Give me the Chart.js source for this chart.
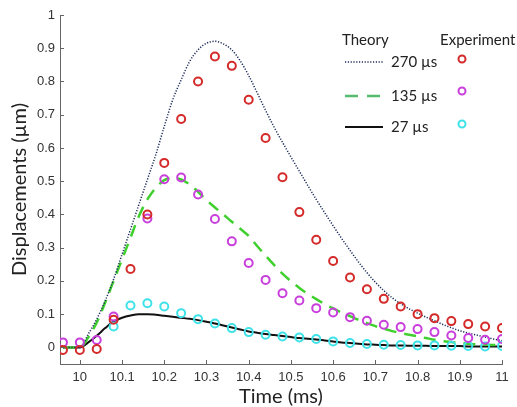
<!DOCTYPE html>
<html>
<head>
<meta charset="utf-8">
<script src="https://cdn.jsdelivr.net/npm/chart.js@4"></script>
<style>
  body { margin: 0; background: #fff; }
</style>
</head>
<body>
<canvas id="grafico" width="517" height="407"></canvas>
<script>
// experiment sample times (ms) and measured displacements (um)
const expTime = [9.96, 10.00, 10.04, 10.08, 10.12, 10.16, 10.20, 10.24, 10.28, 10.32, 10.36, 10.40, 10.44, 10.48,
  10.52, 10.56, 10.60, 10.64, 10.68, 10.72, 10.76, 10.80, 10.84, 10.88, 10.92, 10.96, 11.00];
const exp270 = [-0.008, -0.008, -0.005, 0.083, 0.236, 0.40, 0.555, 0.687, 0.80, 0.875, 0.847, 0.745, 0.63, 0.512,
  0.407, 0.324, 0.26, 0.21, 0.175, 0.146, 0.123, 0.10, 0.088, 0.079, 0.07, 0.063, 0.058];
const exp135 = [0.015, 0.015, 0.022, 0.093, null, 0.388, 0.506, 0.511, 0.46, 0.386, 0.319, 0.254, 0.203, 0.163,
  0.141, 0.118, 0.105, 0.091, 0.08, 0.068, 0.061, 0.055, 0.046, 0.036, 0.028, 0.023, 0.025];
const exp27 = [null, null, null, 0.063, 0.126, 0.133, 0.123, 0.103, 0.085, 0.072, 0.058, 0.046, 0.038, 0.033,
  0.030, 0.025, 0.018, 0.013, 0.01, 0.008, 0.007, 0.006, 0.006, 0.005, 0.004, 0.003, 0.004];

// theory curves
const thTime = [9.96, 9.98, 10.00, 10.02, 10.04, 10.06, 10.08, 10.10, 10.12, 10.14, 10.16, 10.18, 10.20, 10.22,
  10.24, 10.26, 10.28, 10.30, 10.32, 10.34, 10.36, 10.38, 10.40, 10.42, 10.44, 10.46, 10.48, 10.50, 10.52, 10.54,
  10.56, 10.58, 10.60, 10.62, 10.64, 10.66, 10.68, 10.70, 10.72, 10.74, 10.76, 10.78, 10.80, 10.82, 10.84, 10.86,
  10.88, 10.90, 10.92, 10.94, 10.96, 10.98, 11.00];
const th270 = [0, 0, 0, 0.04, 0.085, 0.14, 0.205, 0.28, 0.355, 0.43, 0.505, 0.58, 0.665, 0.745, 0.805, 0.86, 0.895,
  0.915, 0.921, 0.913, 0.895, 0.862, 0.818, 0.766, 0.713, 0.663, 0.617, 0.573, 0.53, 0.487, 0.445, 0.405, 0.366,
  0.328, 0.292, 0.257, 0.225, 0.196, 0.171, 0.149, 0.131, 0.116, 0.103, 0.091, 0.08, 0.069, 0.059, 0.05, 0.043,
  0.037, 0.031, 0.025, 0.02];
const th135 = [0, 0, 0, 0.03, 0.075, 0.135, 0.2, 0.265, 0.33, 0.395, 0.445, 0.48, 0.503, 0.51, 0.505, 0.49, 0.468,
  0.443, 0.421, 0.40, 0.378, 0.357, 0.335, 0.305, 0.276, 0.248, 0.222, 0.199, 0.179, 0.161, 0.145, 0.13, 0.117,
  0.105, 0.094, 0.083, 0.073, 0.064, 0.056, 0.049, 0.043, 0.038, 0.033, 0.028, 0.023, 0.019, 0.016, 0.013, 0.011,
  0.009, 0.008, 0.007, 0.007];
const th27 = [0, 0, 0, 0.015, 0.035, 0.058, 0.078, 0.089, 0.096, 0.1, 0.1, 0.098, 0.095, 0.092, 0.089, 0.086, 0.082,
  0.077, 0.072, 0.066, 0.06, 0.054, 0.048, 0.044, 0.04, 0.037, 0.034, 0.031, 0.028, 0.026, 0.024, 0.021, 0.018,
  0.015, 0.013, 0.011, 0.009, 0.008, 0.007, 0.006, 0.006, 0.005, 0.005, 0.005, 0.004, 0.004, 0.004, 0.004, 0.003,
  0.003, 0.003, 0.003, 0.003];

const pulseLabels = ['270 µs', '135 µs', '27 µs'];
const xTicks = [10, 10.1, 10.2, 10.3, 10.4, 10.5, 10.6, 10.7, 10.8, 10.9, 11];
const yTicks = [0, 0.1, 0.2, 0.3, 0.4, 0.5, 0.6, 0.7, 0.8, 0.9, 1];

const corVermelho = '#d42a2a';
const corMagenta = '#c93fdc';
const corCiano = '#3fe2e8';
const corAzul = '#1c2c5a';
const corVerde = '#3fd02e';
const corPreto = '#111111';

const pares = (xs, ys) => xs.map((x, i) => ({ x: x, y: ys[i] }));

function linha(valores, cor, largura, tracos, ordem) {
    return {
        data: pares(thTime, valores),
        showLine: true,
        borderColor: cor,
        borderWidth: largura,
        borderDash: tracos,
        pointRadius: 0,
        cubicInterpolationMode: 'monotone',
        order: ordem
    };
}

function pontos(valores, cor, ordem) {
    return {
        data: pares(expTime, valores),
        showLine: false,
        borderColor: cor,
        backgroundColor: 'rgba(0,0,0,0)',
        borderWidth: 2,
        pointRadius: 4,
        order: ordem
    };
}

// ticks pointing into the plot, like the original
const ticksInternos = {
    id: 'ticksInternos',
    afterDraw(chart) {
        const { ctx, scales: { x, y } } = chart;
        ctx.save();
        ctx.strokeStyle = '#666';
        ctx.lineWidth = 1;
        ctx.beginPath();
        y.ticks.forEach(t => {
            const py = Math.round(y.getPixelForValue(t.value)) + 0.5;
            ctx.moveTo(x.left, py);
            ctx.lineTo(x.left + 4, py);
        });
        x.ticks.forEach(t => {
            const px = Math.round(x.getPixelForValue(t.value)) + 0.5;
            ctx.moveTo(px, y.bottom);
            ctx.lineTo(px, y.bottom - 4);
        });
        ctx.stroke();
        ctx.restore();
    }
};

// two-column legend: Theory / Experiment
const legenda = {
    id: 'legenda',
    afterDraw(chart) {
        const ctx = chart.ctx;
        ctx.save();
        ctx.fillStyle = '#222';
        ctx.textBaseline = 'middle';
        ctx.font = '15px Lato';
        ctx.fillText('Theory', 342, 40);
        ctx.fillText('Experiment', 440, 40);

        const linhas = [
            { cor: corAzul, largura: 1.5, tracos: [1.2, 1.6], y: 62 },
            { cor: '#55bb6e', largura: 2.5, tracos: [13, 9], y: 96 },
            { cor: corPreto, largura: 2, tracos: [], y: 127 }
        ];
        const marcas = [
            { cor: corVermelho, y: 59 },
            { cor: corMagenta, y: 91 },
            { cor: corCiano, y: 124 }
        ];
        linhas.forEach((l, i) => {
            ctx.beginPath();
            ctx.strokeStyle = l.cor;
            ctx.lineWidth = l.largura;
            ctx.setLineDash(l.tracos);
            ctx.moveTo(345, l.y);
            ctx.lineTo(383, l.y);
            ctx.stroke();
            ctx.setLineDash([]);
            ctx.fillText(pulseLabels[i], 391, l.y);

            ctx.beginPath();
            ctx.strokeStyle = marcas[i].cor;
            ctx.lineWidth = 2;
            ctx.arc(462, marcas[i].y, 3.5, 0, Math.PI * 2);
            ctx.stroke();
        });
        ctx.restore();
    }
};

new Chart(document.getElementById('grafico').getContext('2d'), {
    type: 'scatter',
    data: {
        datasets: [
            pontos(exp270, corVermelho, 1),
            pontos(exp135, corMagenta, 2),
            pontos(exp27, corCiano, 3),
            linha(th270, corAzul, 1.5, [1.2, 1.6], 4),
            linha(th135, corVerde, 2.5, [12, 8], 5),
            linha(th27, corPreto, 2, [], 6)
        ]
    },
    options: {
        responsive: false,
        animation: false,
        layout: { padding: { top: 15, right: 15, left: 0, bottom: 0 } },
        plugins: {
            legend: { display: false },
            tooltip: { enabled: false }
        },
        scales: {
            x: {
                type: 'linear',
                min: 9.953,
                max: 11,
                afterBuildTicks: axis => { axis.ticks = xTicks.map(v => ({ value: v })); },
                afterFit: axis => { axis.height = 43; },
                grid: { display: true, drawOnChartArea: false, drawTicks: false },
                border: { display: true, color: '#666', width: 1 },
                ticks: {
                    color: '#333',
                    font: { family: 'Liberation Sans', size: 13 },
                    padding: 6,
                    maxRotation: 0,
                    autoSkip: false,
                    callback: v => String(v)
                },
                title: {
                    display: true,
                    text: 'Time (ms)',
                    color: '#222',
                    font: { family: 'Lato', size: 20, lineHeight: 1 },
                    padding: 0
                }
            },
            y: {
                type: 'linear',
                min: -0.05,
                max: 1,
                afterBuildTicks: axis => { axis.ticks = yTicks.map(v => ({ value: v })); },
                afterFit: axis => { axis.width = 60; },
                grid: { display: true, drawOnChartArea: false, drawTicks: false },
                border: { display: true, color: '#666', width: 1 },
                ticks: {
                    color: '#333',
                    font: { family: 'Liberation Sans', size: 13 },
                    padding: 5,
                    autoSkip: false,
                    callback: v => String(v)
                },
                title: {
                    display: true,
                    text: 'Displacements (µm)',
                    color: '#222',
                    font: { family: 'Lato', size: 20, lineHeight: 1.2 },
                    padding: { top: 8, bottom: 0 }
                }
            }
        }
    },
    plugins: [ticksInternos, legenda]
});
</script>
</body>
</html>
